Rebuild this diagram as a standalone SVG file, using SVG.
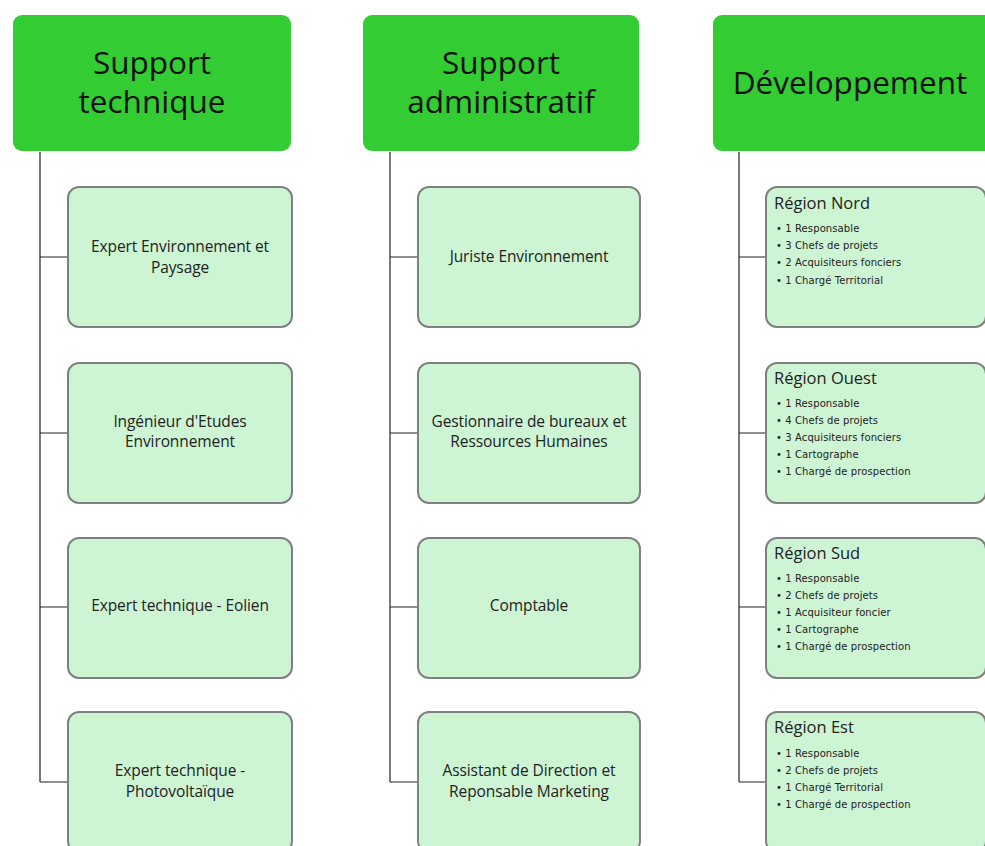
<svg xmlns="http://www.w3.org/2000/svg" width="985" height="846" viewBox="0 0 985 846">
<style>
.hdr{fill:#33cc33;}
.box{fill:#cdf5d3;stroke:#808080;stroke-width:2;}
.ht{font-family:"Open Sans","Noto Sans",sans-serif;font-size:31.5px;fill:#111;text-anchor:middle;}
.ct{font-family:"Open Sans","Noto Sans",sans-serif;font-size:15.5px;fill:#222;text-anchor:middle;letter-spacing:-0.1px;}
.rt{font-family:"Open Sans","Noto Sans",sans-serif;font-size:16.5px;fill:#222;}
.bt{font-family:"DejaVu Sans",sans-serif;font-size:10px;fill:#222;letter-spacing:0.1px;}
.ln{stroke:#222;stroke-width:1.2;fill:none;}
</style>
<rect width="985" height="846" fill="#ffffff"/>
<g id="connectors">
<path class="ln" d="M40,152 V782 M40,257 H68 M40,433 H68 M40,607 H68 M40,782 H68"/>
<path class="ln" d="M390,152 V782 M390,257 H418 M390,433 H418 M390,607 H418 M390,782 H418"/>
<path class="ln" d="M739,152 V782 M739,257 H766 M739,433 H766 M739,607 H766 M739,782 H766"/>
</g>
<g id="h1"><rect class="hdr" x="13" y="15" width="278" height="136" rx="9"/><text class="ht" x="152" y="74">Support</text><text class="ht" x="152" y="113">technique</text></g>
<g id="h2"><rect class="hdr" x="363" y="15" width="276" height="136" rx="9"/><text class="ht" x="501" y="74">Support</text><text class="ht" x="501" y="113">administratif</text></g>
<g id="h3"><rect class="hdr" x="713" y="15" width="280" height="136" rx="9"/><text class="ht" x="850" y="94">Développement</text></g>

<g id="c1a"><rect class="box" x="68" y="187" width="224" height="140" rx="11"/><text class="ct" x="180" y="252">Expert Environnement et</text><text class="ct" x="180" y="273">Paysage</text></g>
<g id="c1b"><rect class="box" x="68" y="363" width="224" height="140" rx="11"/><text class="ct" x="180" y="427">Ingénieur d'Etudes</text><text class="ct" x="180" y="447">Environnement</text></g>
<g id="c1c"><rect class="box" x="68" y="538" width="224" height="140" rx="11"/><text class="ct" x="180" y="611">Expert technique - Eolien</text></g>
<g id="c1d"><rect class="box" x="68" y="712" width="224" height="140" rx="11"/><text class="ct" x="180" y="776">Expert technique -</text><text class="ct" x="180" y="797">Photovoltaïque</text></g>

<g id="c2a"><rect class="box" x="418" y="187" width="222" height="140" rx="11"/><text class="ct" x="529" y="262">Juriste Environnement</text></g>
<g id="c2b"><rect class="box" x="418" y="363" width="222" height="140" rx="11"/><text class="ct" x="529" y="427">Gestionnaire de bureaux et</text><text class="ct" x="529" y="447">Ressources Humaines</text></g>
<g id="c2c"><rect class="box" x="418" y="538" width="222" height="140" rx="11"/><text class="ct" x="529" y="611">Comptable</text></g>
<g id="c2d"><rect class="box" x="418" y="712" width="222" height="140" rx="11"/><text class="ct" x="529" y="776">Assistant de Direction et</text><text class="ct" x="529" y="797">Reponsable Marketing</text></g>

<g id="c3a"><rect class="box" x="766" y="187" width="220" height="140" rx="11"/>
<text class="rt" x="774" y="209">Région Nord</text>
<text class="bt" x="776" y="232">•  1 Responsable</text>
<text class="bt" x="776" y="249">•  3 Chefs de projets</text>
<text class="bt" x="776" y="266">•  2 Acquisiteurs  fonciers</text>
<text class="bt" x="776" y="284">•  1 Chargé  Territorial</text></g>
<g id="c3b"><rect class="box" x="766" y="363" width="220" height="140" rx="11"/>
<text class="rt" x="774" y="384">Région Ouest</text>
<text class="bt" x="776" y="407">•  1 Responsable</text>
<text class="bt" x="776" y="424">•  4 Chefs de projets</text>
<text class="bt" x="776" y="441">•  3 Acquisiteurs  fonciers</text>
<text class="bt" x="776" y="458">•  1 Cartographe</text>
<text class="bt" x="776" y="475">•  1 Chargé  de prospection</text></g>
<g id="c3c"><rect class="box" x="766" y="538" width="220" height="140" rx="11"/>
<text class="rt" x="774" y="559">Région Sud</text>
<text class="bt" x="776" y="582">•  1 Responsable</text>
<text class="bt" x="776" y="599">•  2 Chefs de projets</text>
<text class="bt" x="776" y="616">•  1 Acquisiteur  foncier</text>
<text class="bt" x="776" y="633">•  1 Cartographe</text>
<text class="bt" x="776" y="650">•  1 Chargé  de prospection</text></g>
<g id="c3d"><rect class="box" x="766" y="712" width="220" height="140" rx="11"/>
<text class="rt" x="774" y="733">Région Est</text>
<text class="bt" x="776" y="757">•  1 Responsable</text>
<text class="bt" x="776" y="774">•  2 Chefs de projets</text>
<text class="bt" x="776" y="791">•  1 Chargé  Territorial</text>
<text class="bt" x="776" y="808">•  1 Chargé  de prospection</text></g>
</svg>
